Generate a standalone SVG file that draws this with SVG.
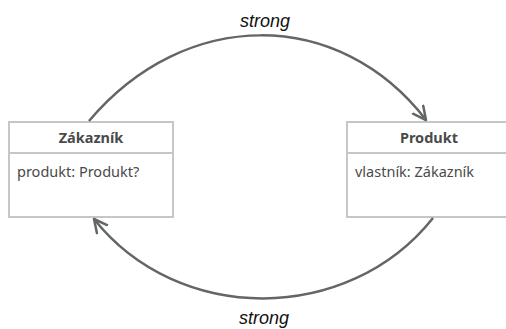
<svg xmlns="http://www.w3.org/2000/svg" width="506" height="329" viewBox="0 0 506 329">
<defs>
<style>
.box{fill:#fff;stroke:#c3c8c6;stroke-width:2}
.div{stroke:#c3c8c6;stroke-width:2}
.hdr{font-family:"Noto Sans",Lato,sans-serif;font-weight:bold;font-size:14.5px;fill:#4a4a4a;text-anchor:middle}
.att{font-family:"Noto Sans",Lato,sans-serif;font-size:14.5px;fill:#4a4a4a}
.lbl{font-family:"Liberation Sans",Arial,sans-serif;font-style:italic;font-size:18px;fill:#111;text-anchor:middle}
.edge{fill:none;stroke:#626766;stroke-width:2.5}
</style>
<marker id="arr" viewBox="0 0 16 16" refX="14" refY="8" markerWidth="16" markerHeight="16" markerUnits="userSpaceOnUse" orient="auto">
<path d="M1,1.5 L14,8 L1,14.5" fill="none" stroke="#626766" stroke-width="2.5" stroke-linecap="round" stroke-linejoin="round"/>
</marker>
</defs>
<rect width="506" height="329" fill="#fff"/>
<g id="zakaznik">
<rect class="box" x="9" y="122" width="164" height="95"/>
<line class="div" x1="9" y1="153" x2="173" y2="153"/>
<text class="hdr" x="91" y="143">Zákazník</text>
<text class="att" x="17" y="177">produkt: Produkt?</text>
</g>
<g id="produkt">
<rect class="box" x="347" y="122" width="164" height="95"/>
<line class="div" x1="347" y1="153" x2="511" y2="153"/>
<text class="hdr" x="429" y="143">Produkt</text>
<text class="att" x="355" y="177">vlastník: Zákazník</text>
</g>
<g id="connectors">
<path class="edge" d="M89,121 C185,7 339,7 426,120" marker-end="url(#arr)"/>
<path class="edge" d="M433,218 C348,325 178,325 94,219" marker-end="url(#arr)"/>
<text class="lbl" x="265" y="27">strong</text>
<text class="lbl" x="264" y="324">strong</text>
</g>
</svg>
